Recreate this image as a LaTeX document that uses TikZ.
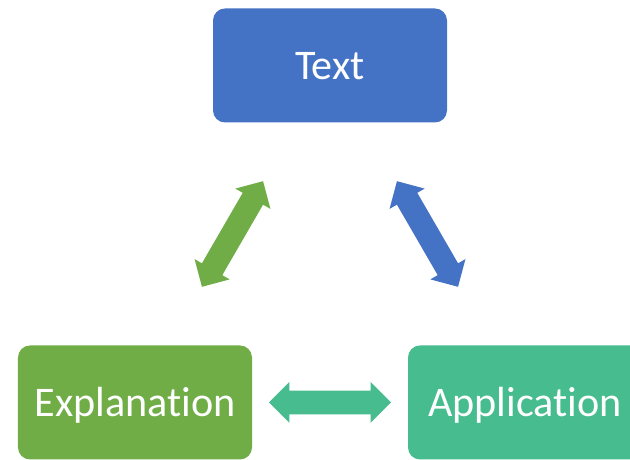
\documentclass[tikz,border=0pt]{standalone}
\usepackage{fontspec}
\setmainfont{Carlito}[Ligatures = NoCommon]
\usepackage{xcolor}
\usepackage{tikz}
\usetikzlibrary{calc}
\usetikzlibrary{arrows.meta}
\usetikzlibrary{shapes}
\usetikzlibrary{shapes.arrows}
\definecolor{textblue}{HTML}{4472C4}
\definecolor{explgreen}{HTML}{70AD47}
\definecolor{applteal}{HTML}{46BC8F}
\tikzstyle{box} = [rectangle, rounded corners = 0.3cm, minimum width = 5.85cm, minimum height = 2.85cm, inner sep = 0, text = white, font = \fontsize{30}{36}\selectfont, text height = 19.3pt, text depth = 0pt]
\tikzstyle{twoway} = [double arrow, draw = none, inner xsep = 0, inner ysep = 0.2875cm, text height = 0pt, text depth = 0pt, minimum height = 3.05cm, minimum width = 1cm, double arrow head extend = 0.2125cm]

\begin{document}
\begin{tikzpicture}
\useasboundingbox (0, 0) rectangle (15.75, 11.5);
\node [box, fill = textblue] (T) at (8.25, 9.8625) {Text};
\node [box, fill = explgreen] (E) at (3.375, 1.4375) {Explanation};
\node [box, fill = applteal] (A) at (13.125, 1.4375) {Application};
\path (E.center) to node [twoway, sloped, fill = explgreen] (ET) {} (T.center);
\path (T.center) to node [twoway, sloped, fill = textblue] (TA) {} (A.center);
\path (E.center) to node [twoway, sloped, fill = applteal] (EA) {} (A.center);
\end{tikzpicture}
\end{document}
